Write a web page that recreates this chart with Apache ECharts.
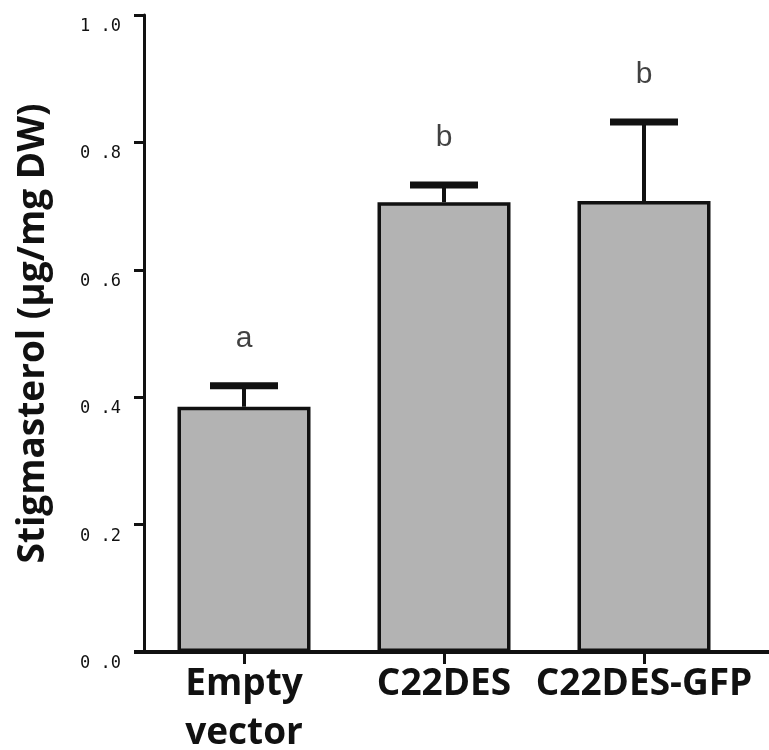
<!DOCTYPE html>
<html>
<head>
<meta charset="utf-8">
<script src="https://cdn.jsdelivr.net/npm/echarts@6/dist/echarts.min.js"></script>
<style>html,body{margin:0;padding:0;background:#fff}#c{width:769px;height:750px}</style>
</head>
<body>
<div id="c"></div>
<script>
const categories = ['Empty\nvector', 'C22DES', 'C22DES-GFP'];
const means = [0.385, 0.706, 0.708];
const errors = [0.033, 0.027, 0.124];
const letters = ['a', 'b', 'b'];
const yTicks = [0, 0.2, 0.4, 0.6, 0.8, 1.0];

const chart = echarts.init(document.getElementById('c'));
const errData = means.map((m, i) => [i, m, m + errors[i]]);

chart.setOption({
  animation: false,
  grid: { left: 144, right: 25, top: 15, bottom: 98, containLabel: false, outerBoundsMode: 'none' },
  xAxis: {
    type: 'category',
    data: categories,
    axisLine: { show: false },
    axisTick: { show: true, alignWithLabel: true, length: 12, lineStyle: { color: '#111', width: 3 } },
    axisLabel: {
      color: '#111', fontFamily: 'Open Sans', fontWeight: 'bold', fontSize: 37,
      lineHeight: 49, margin: 8, interval: 0
    }
  },
  yAxis: {
    type: 'value', min: 0, max: 1.0, interval: 0.2,
    name: 'Stigmasterol (\u00b5g/mg DW)',
    nameLocation: 'middle', nameGap: 92,
    nameTextStyle: { fontFamily: 'Open Sans', fontWeight: 'bold', fontSize: 37, color: '#111' },
    splitLine: { show: false },
    axisLine: { show: true, lineStyle: { color: '#111', width: 3 } },
    axisTick: { show: true, length: 10, lineStyle: { color: '#111', width: 3 } },
    axisLabel: {
      color: '#111', fontFamily: 'DejaVu Sans Mono', fontSize: 17, margin: 23,
      verticalAlign: 'top', padding: [3, 0, 0, 0],
      formatter: v => {
        const t = yTicks.find(x => Math.abs(x - v) < 1e-9);
        return (t === undefined ? v : t).toFixed(1).replace('.', ' .');
      }
    }
  },
  graphic: [{
    type: 'line', z: 10,
    shape: { x1: 134, y1: 652, x2: 769, y2: 652 },
    style: { stroke: '#111', lineWidth: 4 }
  }],
  series: [
    {
      type: 'bar', data: means, barWidth: 133,
      itemStyle: { color: '#b3b3b3', borderColor: '#111', borderWidth: 3.5 }
    },
    {
      type: 'custom', data: errData, z: 5,
      renderItem: (params, api) => {
        const x = api.value(0);
        const top = api.coord([x, api.value(2)]);
        const base = api.coord([x, api.value(1)]);
        const half = 34;
        return {
          type: 'group',
          children: [
            { type: 'line', shape: { x1: top[0], y1: top[1], x2: base[0], y2: base[1] }, style: { stroke: '#111', lineWidth: 4 } },
            { type: 'line', shape: { x1: top[0] - half, y1: top[1], x2: top[0] + half, y2: top[1] }, style: { stroke: '#111', lineWidth: 7 } }
          ]
        };
      }
    },
    {
      type: 'scatter', symbolSize: 0,
      data: means.map((m, i) => [i, m + errors[i]]),
      label: {
        show: true, position: 'top', distance: 32,
        formatter: p => letters[p.dataIndex],
        fontFamily: 'Liberation Sans', fontSize: 30, color: '#111'
      }
    }
  ]
});
</script>
</body>
</html>
